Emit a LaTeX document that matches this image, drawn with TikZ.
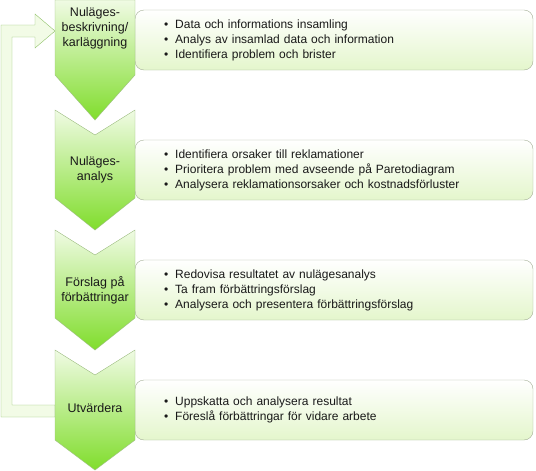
\documentclass[tikz,border=0pt]{standalone}
\usepackage{fontspec}
\setmainfont{Liberation Sans}
\usepackage{tikz}

\definecolor{chevtop}{HTML}{F0FBE4}
\definecolor{chevbot}{HTML}{80DD2C}
\definecolor{chevline}{HTML}{9CBC80}
\definecolor{boxbot}{HTML}{E4F6CC}
\definecolor{boxline}{HTML}{A4B096}
\definecolor{loopfill}{HTML}{F2FBE6}
\definecolor{loopline}{HTML}{8FC068}

\begin{document}
\begin{tikzpicture}[x=1pt, y=-1pt,
chevron/.style={draw=chevline, top color=chevtop, bottom color=chevbot},
chevron-text/.style={font=\fontsize{12.5pt}{15pt}\selectfont, align=center, text=black!90},
info-box/.style={rectangle, rounded corners=9pt, draw=boxline, top color=white, bottom color=boxbot,
    minimum width=398pt, minimum height=60pt, text width=340pt, inner xsep=29pt, align=left,
    font=\fontsize{12pt}{15pt}\selectfont, text=black!90},
loop-arrow/.style={draw=loopline, fill=loopfill}
]
\useasboundingbox (0,0) rectangle (536,471);

% feedback arrow
\path [loop-arrow] (55,417) -- (1,417) -- (1,25) -- (35,25) -- (35,14) -- (55,31)
    -- (35,48) -- (35,37) -- (12,37) -- (12,405) -- (55,405) -- cycle;

% info boxes
\node [info-box] (info-1) at (334,40) {\textbullet\hspace{7pt}Data och informations insamling\\
    \textbullet\hspace{7pt}Analys av insamlad data och information\\
    \textbullet\hspace{7pt}Identifiera problem och brister};
\node [info-box] (info-2) at (334,170) {\textbullet\hspace{7pt}Identifiera orsaker till reklamationer\\
    \textbullet\hspace{7pt}Prioritera problem med avseende på Paretodiagram\\
    \textbullet\hspace{7pt}Analysera reklamationsorsaker och kostnadsförluster};
\node [info-box] (info-3) at (334,290) {\textbullet\hspace{7pt}Redovisa resultatet av nulägesanalys\\
    \textbullet\hspace{7pt}Ta fram förbättringsförslag\\
    \textbullet\hspace{7pt}Analysera och presentera förbättringsförslag};
\node [info-box] (info-4) at (334,410) {\textbullet\hspace{7pt}Uppskatta och analysera resultat\\
    \textbullet\hspace{7pt}Föreslå förbättringar för vidare arbete};

% chevrons
\path [chevron] (55,0) -- (135,0) -- (135,75) -- (95,120) -- (55,75) -- cycle;
\path [chevron] (55,110) -- (95,135) -- (135,110) -- (135,198) -- (95,230) -- (55,198) -- cycle;
\path [chevron] (55,230) -- (95,255) -- (135,230) -- (135,318) -- (95,350) -- (55,318) -- cycle;
\path [chevron] (55,350) -- (95,375) -- (135,350) -- (135,440) -- (95,470) -- (55,440) -- cycle;

\node [chevron-text] (step-1) at (95,28) {Nuläges-\\beskrivning/\\karläggning};
\node [chevron-text] (step-2) at (95,170) {Nuläges-\\analys};
\node [chevron-text] (step-3) at (95,290) {Förslag på\\förbättringar};
\node [chevron-text] (step-4) at (95,408) {Utvärdera};
\end{tikzpicture}
\end{document}
